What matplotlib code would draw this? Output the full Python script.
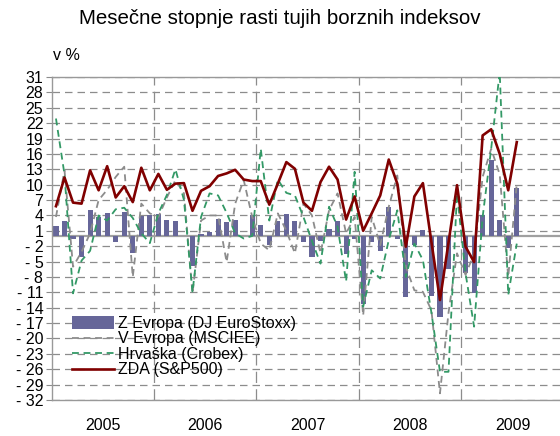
import matplotlib

matplotlib.use("Agg")
import matplotlib.pyplot as plt
import numpy as np

# monthly values, Jan 2005 - Jul 2009 (v %)
eurostoxx = [1.9, 2.9, -0.6, -4.1, 5.0, 3.6, 4.5, -1.2, 4.6, -3.3, 3.9, 4.0,
             4.2, 3.1, 2.9, 0.0, -5.8, 0.3, 0.8, 3.4, 2.7, 3.1, 0.0, 4.1,
             2.2, -1.8, 3.0, 4.3, 3.0, -1.2, -4.1, -0.9, 1.3, 2.9, -3.5, -0.6,
             -13.3, -1.2, -2.9, 5.7, -0.5, -11.9, -1.7, 1.1, -11.7, -15.9, -6.4, 0.0,
             -7.2, -11.1, 4.0, 14.9, 3.2, -2.3, 9.4]
msciee = [3.7, 12.8, -6.0, -3.1, 0.5, 7.0, 9.0, 11.5, 13.5, -8.0, 6.3, 4.4,
          3.7, 7.5, 10.9, 8.3, -11.2, 3.0, 4.0, 4.0, -5.1, 6.3, 10.9, 3.7,
          -1.5, -2.8, 4.4, 1.0, -3.4, 6.3, 4.0, -3.4, 5.0, 8.3, 0.5, 3.7,
          -15.5, 3.7, -1.8, 5.7, 11.8, -6.0, -10.6, -10.9, -14.5, -30.7, -15.0, -3.4,
          -7.6, -3.4, 11.5, 17.0, 12.0, -8.0, 10.2]
crobex = [22.9, 12.0, -11.2, -4.8, -2.9, 4.0, 3.0, 5.2, 5.5, 3.5, 0.5, -1.4,
          4.4, 8.0, 13.0, 7.0, -11.0, 3.7, 8.3, 7.9, 4.5, 0.5, -0.5, 0.0,
          17.0, 3.0, 11.0, 8.4, 7.9, 3.7, -1.0, -5.4, 5.7, 1.8, -8.9, 12.5,
          -13.8, -6.7, -8.3, -0.8, 5.0, -8.0, -1.5, -4.7, -15.0, -26.5, -26.5, 8.3,
          -7.3, -17.7, 3.7, 17.0, 32.0, -11.5, -1.5]
sp500 = [5.8, 11.4, 6.5, 6.3, 12.8, 8.9, 13.6, 7.5, 9.7, 6.6, 13.3, 8.9,
         12.1, 9.0, 10.2, 10.3, 4.9, 8.8, 9.7, 11.7, 12.2, 12.9, 11.0, 10.7,
         10.7, 6.1, 10.2, 14.4, 13.1, 6.5, 4.9, 10.5, 13.5, 11.0, 3.2, 7.7,
         1.0, 4.4, 7.9, 14.9, 10.2, -2.1, 7.7, 10.3, -1.2, -12.5, -1.3, 9.9,
         -2.1, -5.1, 19.6, 20.8, 16.0, 8.9, 18.3]
years = ["2005", "2006", "2007", "2008", "2009"]
yticks = list(range(31, -33, -3))

BAR, GRAY, GREEN, RED, GRID = "#666699", "#8c8c8c", "#339966", "#800000", "#8c8c8c"

plt.rcParams.update({"font.family": ["Liberation Sans", "DejaVu Sans"], "font.size": 11.5})
fig = plt.figure(figsize=(5.6, 4.36), dpi=100)
fig.patch.set_facecolor("white")
ax = fig.add_axes([51.7 / 560, 36 / 436, 512 / 560, 323 / 436])

x = np.arange(len(sp500)) + 0.5

# grid first so the series sit on top
for t in yticks:
    ax.axhline(t, color=GRID, lw=0.9, ls=(0, (6, 4)), zorder=0)
for b in (12, 24, 36, 48):
    ax.axvline(b, color=GRID, lw=0.9, ls=(0, (9, 5)), zorder=0)
ax.axhline(0, color="#a0a0a0", lw=1.6, zorder=1)

bars = ax.bar(x, eurostoxx, width=0.6, color=BAR, zorder=2)
l_ee, = ax.plot(x, msciee, color=GRAY, lw=1.3, ls=(0, (3.8, 2.6)), zorder=3)
l_hr, = ax.plot(x, crobex, color=GREEN, lw=1.3, ls=(0, (3.8, 2.6)), zorder=3)
l_us, = ax.plot(x, sp500, color=RED, lw=1.9, zorder=4)

ax.set_xlim(0, 60)
ax.set_ylim(-32, 31)
ax.set_yticks(yticks)
ax.set_yticklabels([f"{t}" if t >= 0 else f"- {-t}" for t in yticks], fontsize=11.5)
ax.tick_params(axis="y", length=4, width=0.8, color=GRID, pad=2)
ax.set_xticks([6, 18, 30, 42, 54])
ax.set_xticklabels(years, fontsize=11.5)
ax.tick_params(axis="x", length=0, pad=13)
for s in ("left", "bottom", "top"):
    ax.spines[s].set_color("#999999")
    ax.spines[s].set_linewidth(1.0)
ax.spines["right"].set_visible(False)

ax.legend([bars, l_ee, l_hr, l_us],
          ["Z Evropa (DJ EuroStoxx)", "V Evropa (MSCIEE)", "Hrvaška (Crobex)", "ZDA (S&P500)"],
          loc="upper left", bbox_to_anchor=(0.04, 0.26), frameon=False, fontsize=11.5,
          handlelength=2.6, handleheight=0.85, handletextpad=0.3, labelspacing=0.03,
          borderpad=0, borderaxespad=0)

fig.text(0.5, 1 - 18 / 436, "Mesečne stopnje rasti tujih borznih indeksov",
         ha="center", va="center", fontsize=14.8)
fig.text(53 / 560, 1 - 55 / 436, "v %", ha="left", va="center", fontsize=11.5)

fig.savefig("out.png", dpi=100, facecolor="white")
